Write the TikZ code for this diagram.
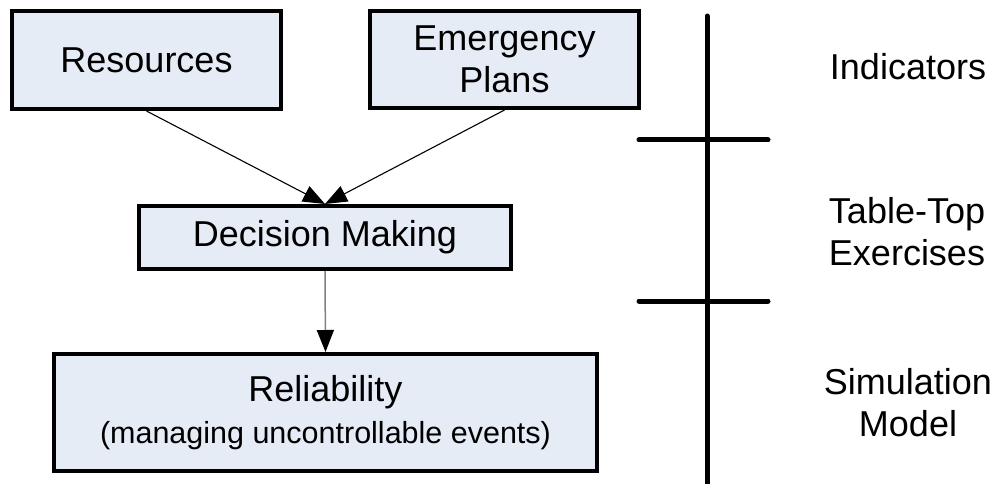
\documentclass[tikz,border=0pt]{standalone}
\usepackage{fontspec}
\setmainfont{Liberation Sans}
\usetikzlibrary{
	positioning
	,arrows.meta
}
\definecolor{boxfill}{RGB}{230,236,246}
\tikzset{
	box/.style={
		draw=black
		,fill=boxfill
		,line width=4pt
		,inner sep=0pt
		,align=center
		,font=\fontsize{36}{42}\selectfont
	}
	,sidetext/.style={
		align=center
		,inner sep=0pt
		,font=\fontsize{36}{42}\selectfont
	}
	,link/.style={
		->
		,line width=1.1pt
	}
	,axis/.style={
		line width=5pt
		,line cap=round
	}
}
\tikzset{
	>={Triangle[length=22pt,width=17pt,color=black]}
}

\begin{document}
\begin{tikzpicture}[x=1pt, y=-1pt]
\useasboundingbox (0,0) rectangle (997,484);
% boxes
\node[box, minimum width=269pt, minimum height=98pt] (res) at (146.5,60) {Resources};
\node[box, minimum width=269pt, minimum height=97pt] (plans) at (504.5,59.5) {Emergency\\Plans};
\node[box, minimum width=372pt, minimum height=63pt] (dec) at (325,237.5) {Decision Making};
\node[box, minimum width=543pt, minimum height=117pt] (rel) at (325.5,412.5)
	{Reliability\\{\fontsize{30.5}{44}\selectfont (managing uncontrollable events)}};
% arrows
\draw[link] (res.south) -- (dec.north);
\draw[link] (plans.south) -- (dec.north);
\draw[link, black!50, line width=1.5pt] (dec.south) -- (rel.north);
% scale on the right
\coordinate (axtop) at (707,16);
\coordinate (axbot) at (707,490);
\draw[axis] (axtop) -- (axbot);
\foreach \y in {140,301}
	\draw[axis] (639,\y) -- (768,\y);
\node[sidetext] (ind) at (908,67) {Indicators};
\node[sidetext] (ttx) at (907,232) {Table-Top\\Exercises};
\node[sidetext] (sim) at (908,403) {Simulation\\Model};
\end{tikzpicture}
\end{document}
